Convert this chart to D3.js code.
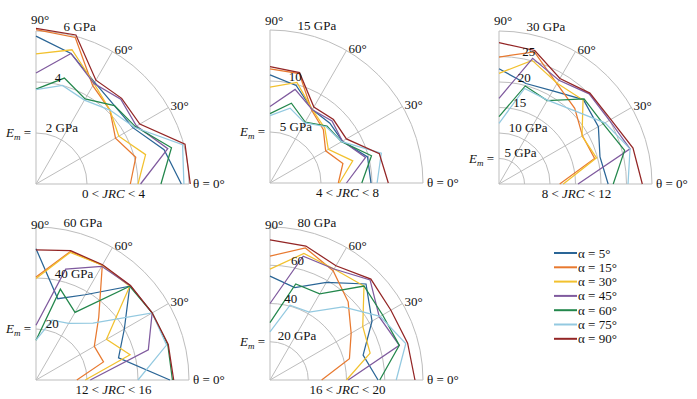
<!DOCTYPE html>
<html><head><meta charset="utf-8">
<script src="https://cdn.jsdelivr.net/npm/d3@7"></script>
<style>body{margin:0;background:#fff}svg{display:block}text{font-family:"Liberation Serif","Times New Roman",serif}</style>
</head><body>
<svg id="c" width="697" height="399"></svg>
<script>
// ---- data ----
const thetas = [0, 15, 30, 45, 60, 75, 90];
const alphaLabels = ["α = 5°", "α = 15°", "α = 30°", "α = 45°", "α = 60°", "α = 75°", "α = 90°"];
const jrcLow = [0, 4, 8, 12, 16];
const jrcHigh = [4, 8, 12, 16, 20];
const ringValues1 = [2, 4, 6];
const ringValues2 = [5, 10, 15];
const ringValues3 = [5, 10, 15, 20, 25, 30];
const ringValues4 = [20, 40, 60];
const ringValues5 = [20, 40, 60, 80];
const ringLabels1 = ["2 GPa", "4", "6 GPa"];
const ringLabels2 = ["5 GPa", "10", "15 GPa"];
const ringLabels3 = ["5 GPa", "10 GPa", "15", "20", "25", "30 GPa"];
const ringLabels4 = ["20", "40 GPa", "60 GPa"];
const ringLabels5 = ["20 GPa", "40", "60", "80 GPa"];
// values per alpha series (rows: α=5,15,30,45,60,75,90), columns: θ = 0..90
const panel1 = [
  [5.7, 5.2, 4.4, 4.35, 4.6, 5.3, 5.8],
  [3.7, 4.05, 3.6, 4.1, 4.45, 5.95, 6.05],
  [4.0, 4.45, 3.75, 4.1, 4.55, 5.45, 5.1],
  [4.1, 5.35, 4.55, 4.7, 4.55, 5.3, 4.35],
  [4.9, 5.5, 4.5, 4.35, 3.85, 4.3, 3.72],
  [5.8, 5.95, 4.45, 4.1, 3.8, 4.0, 3.7],
  [6.05, 6.05, 4.7, 4.75, 4.7, 6.05, 6.1]
];
const panel2 = [
  [9.9, 9.9, 8.2, 8.3, 8.3, 9.9, 10.6],
  [6.7, 7.4, 6.3, 7.4, 8.2, 11.1, 11.2],
  [6.8, 8.4, 6.6, 7.6, 8.3, 10.2, 9.4],
  [7.5, 9.7, 8.2, 8.6, 8.3, 9.5, 7.5],
  [9.0, 10.3, 8.1, 7.9, 6.9, 8.1, 6.8],
  [10.5, 11.3, 8.1, 7.8, 6.8, 7.6, 6.6],
  [11.6, 11.1, 8.65, 8.8, 8.6, 11.2, 11.4]
];
const panel3 = [
  [21.4, 20.5, 22.5, 23.4, 21.1, 20.4, 22.6],
  [11.9, 19.4, 18.9, 21.0, 22.7, 26.8, 24.9],
  [12.6, 19.8, 18.8, 23.3, 22.8, 25.1, 21.7],
  [15.5, 26.6, 25.0, 25.0, 23.5, 25.5, 16.8],
  [22.4, 25.5, 23.6, 23.6, 18.9, 19.9, 13.2],
  [25.3, 26.6, 24.0, 20.5, 19.0, 19.4, 11.9],
  [28.1, 27.2, 25.3, 25.2, 23.9, 27.1, 27.7]
];
const panel4 = [
  [52.5, 33.5, 40.0, 52.0, 38.6, 33.0, 51.5],
  [16.0, 27.4, 26.4, 34.8, 52.0, 52.2, 40.4],
  [19.3, 38.2, 31.9, 52.0, 52.0, 51.8, 39.8],
  [21.3, 45.6, 52.6, 52.3, 51.5, 45.0, 21.5],
  [53.5, 53.5, 52.6, 52.0, 30.6, 36.9, 15.6],
  [40.0, 53.0, 52.6, 31.6, 25.6, 24.3, 15.6],
  [54.0, 53.7, 52.6, 52.4, 52.2, 52.5, 51.0]
];
const panel5 = [
  [56.5, 50.4, 61.6, 71.0, 59.0, 50.0, 54.3],
  [27.0, 43.0, 49.0, 57.8, 66.0, 71.5, 64.8],
  [40.0, 54.2, 56.0, 69.5, 67.0, 68.5, 58.0],
  [40.9, 70.0, 66.0, 74.0, 67.0, 67.0, 40.0],
  [57.4, 70.0, 68.0, 69.5, 52.0, 52.0, 30.0],
  [66.0, 73.5, 66.5, 54.0, 41.0, 40.5, 25.2],
  [75.8, 74.5, 73.0, 74.6, 69.0, 72.5, 73.3]
];
const panels = [panel1, panel2, panel3, panel4, panel5];
const ringValues = [ringValues1, ringValues2, ringValues3, ringValues4, ringValues5];
const ringLabels = [ringLabels1, ringLabels2, ringLabels3, ringLabels4, ringLabels5];
const gridAngles = [0, 30, 60, 90];

// ---- styles / layout ----
const seriesColors = ["#2a6596", "#e8792f", "#f2c12e", "#7f5a9e", "#23874c", "#93c9e0", "#932525"];
const gridColor = "#bdbdbd";
const FONT = "Liberation Serif, Times New Roman, serif";
const R = 153;
const layout = [
  {cx: 36, cy: 184, top: 24}, {cx: 270, cy: 183, top: 25}, {cx: 499, cy: 184, top: 25},
  {cx: 36, cy: 380, top: 229}, {cx: 270, cy: 380, top: 229}
];
const svg = d3.select("#c");
const aScale = d3.scaleLinear().domain([0, 90]).range([Math.PI / 2, 0]);
const rad = d => d * Math.PI / 180;

panels.forEach((vals, i) => {
  const {cx, cy, top} = layout[i];
  const maxV = d3.max(ringValues[i]);
  const r = d3.scaleLinear().domain([0, maxV]).range([0, R]);
  const g = svg.append("g").attr("transform", `translate(${cx},${cy})`)
    .attr("font-family", FONT);

  // rings
  ringValues[i].forEach(v => {
    const p = d3.path();
    p.moveTo(0, -r(v));
    p.arc(0, 0, r(v), -Math.PI / 2, 0, false);
    g.append("path").attr("d", p.toString()).attr("fill", "none")
      .attr("stroke", gridColor).attr("stroke-width", 1);
  });
  // spokes
  gridAngles.forEach(a => {
    g.append("line").attr("x1", 0).attr("y1", 0)
      .attr("x2", R * Math.cos(rad(a))).attr("y2", -R * Math.sin(rad(a)))
      .attr("stroke", gridColor).attr("stroke-width", 1);
  });

  // data lines
  const line = d3.lineRadial().angle((d, j) => aScale(thetas[j])).radius(d => r(d));
  vals.forEach((s, k) => {
    g.append("path").attr("d", line(s)).attr("fill", "none")
      .attr("stroke", seriesColors[k]).attr("stroke-width", 1.25)
      .attr("stroke-linejoin", "miter");
  });

  // ring labels
  ringValues[i].forEach((v, k) => {
    g.append("text")
      .attr("x", r(v) * Math.cos(rad(80)) + 1)
      .attr("y", -r(v) * Math.sin(rad(80)) - 2)
      .attr("font-size", 13).attr("fill", "#111")
      .text(ringLabels[i][k]);
  });

  // angle labels
  g.append("text").attr("x", 4).attr("y", top - cy).attr("text-anchor", "middle")
    .attr("font-size", 13).attr("fill", "#111").text("90°");
  [60, 30].forEach(a => {
    g.append("text")
      .attr("x", R * Math.cos(rad(a)) + 2).attr("y", -R * Math.sin(rad(a)) + 2)
      .attr("font-size", 13).attr("fill", "#111").text(a + "°");
  });
  g.append("text").attr("x", R + 4).attr("y", 4)
    .attr("font-size", 13).attr("fill", "#111").text("θ = 0°");

  // E_m label
  const em = g.append("text").attr("x", -5).attr("y", -r(ringValues[i][0]) + 4)
    .attr("text-anchor", "end").attr("font-size", 13).attr("fill", "#111");
  em.append("tspan").attr("font-style", "italic").text("E");
  em.append("tspan").attr("font-style", "italic").attr("font-size", 9).attr("dy", 3).text("m");
  em.append("tspan").attr("dy", -3).text(" =");

  // title
  const t = g.append("text").attr("x", R / 2 + 1).attr("y", 14)
    .attr("text-anchor", "middle").attr("font-size", 13).attr("fill", "#111");
  t.append("tspan").text(jrcLow[i] + " < ");
  t.append("tspan").attr("font-style", "italic").text("JRC");
  t.append("tspan").text(" < " + jrcHigh[i]);
});

// legend
const lg = svg.append("g").attr("transform", "translate(554,253)").attr("font-family", FONT);
alphaLabels.forEach((lab, k) => {
  const y = k * 14.3;
  lg.append("line").attr("x1", 0).attr("x2", 23).attr("y1", y).attr("y2", y)
    .attr("stroke", seriesColors[k]).attr("stroke-width", 2);
  lg.append("text").attr("x", 24).attr("y", y + 4.5).attr("font-size", 13)
    .attr("fill", "#111").text(lab);
});
</script>
</body></html>
